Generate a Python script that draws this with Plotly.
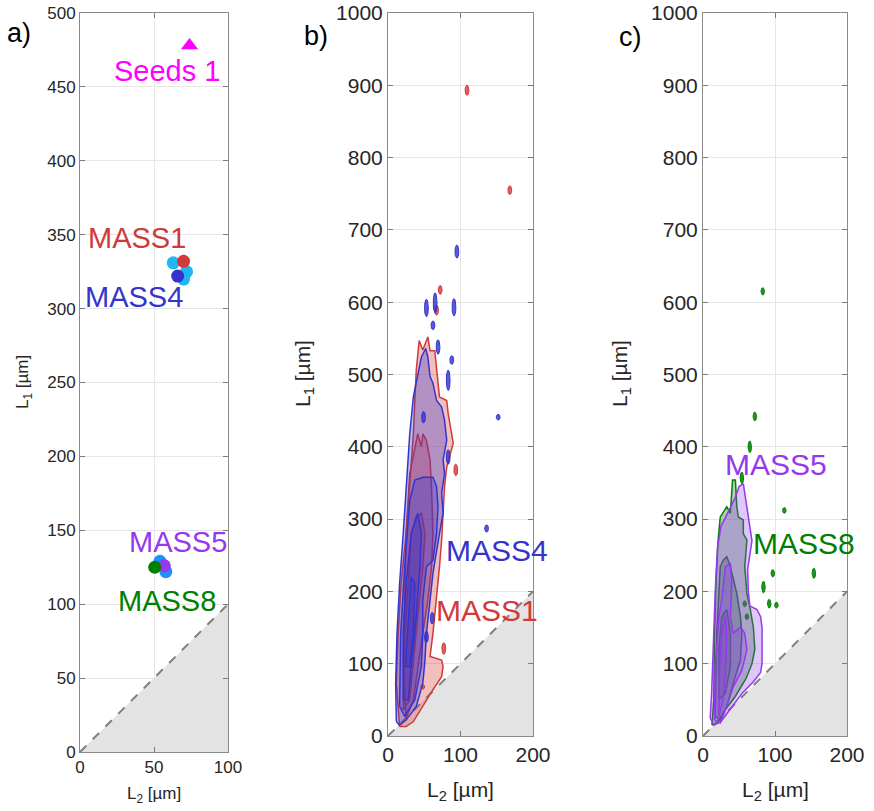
import numpy as np
import plotly.graph_objects as go

# ---------------- data ----------------
# Panel a: characteristic sizes (L2, L1) in µm
seeds_L2 = [74]
seeds_L1 = [478]
mass1_L2, mass1_L1 = [70], [332]
mass4_L2, mass4_L1 = [66], [322]
mass5_L2, mass5_L1 = [57], [126]
mass8_L2, mass8_L1 = [50.5], [125]
rep_high_L2 = [63, 72, 70]
rep_high_L1 = [331, 325, 320]
rep_low_L2 = [54, 58]
rep_low_L1 = [129, 122]

# Panel b: density contour levels (L2, L1) for MASS1 (red) and MASS4 (blue)
mass1_lvl1_L2 = [16, 11.5, 14, 18, 25, 30, 35, 37, 39, 43, 48, 55, 58, 64.5, 67, 71, 81, 83, 90, 85, 81, 78, 76, 74, 71, 67, 62, 58, 74, 76, 74, 62, 48, 35, 25]
mass1_lvl1_L1 = [13, 73, 142, 211, 280, 349, 418, 464, 506, 547, 534, 552, 533, 533, 510, 469, 464, 446, 405, 386, 372, 345, 303, 271, 234, 188, 142, 110, 105, 96, 82, 64, 41, 20, 13]
mass1_lvl2_L2 = [21, 23, 25, 30, 37, 41, 46, 48, 53, 58, 60, 62, 60, 55, 48, 41, 35, 25]
mass1_lvl2_L1 = [96, 188, 280, 363, 395, 418, 400, 418, 409, 382, 345, 280, 234, 188, 142, 96, 50, 24]
mass1_lvl3_L2 = [21, 23, 28, 32, 39, 46, 51, 48, 41, 35, 30]
mass1_lvl3_L1 = [36, 142, 211, 280, 303, 308, 280, 234, 165, 96, 50]

mass4_lvl1_L2 = [11.5, 10.6, 12.4, 16, 21, 25, 30, 35, 38, 41, 46, 52, 55, 58, 62, 67, 74, 78, 81, 76, 78, 74, 76, 71, 67, 62, 58, 53, 51, 48, 39, 25, 16]
mass4_lvl1_L1 = [20, 73, 142, 211, 280, 349, 418, 469, 483, 501, 524, 536, 524, 497, 488, 464, 455, 437, 409, 382, 363, 336, 308, 280, 253, 225, 188, 142, 105, 73, 41, 22, 15]
mass4_lvl2_L2 = [16, 17.5, 23, 30, 37, 48, 62, 67, 69, 67, 62, 53, 48, 48, 46, 37, 23]
mass4_lvl2_L1 = [41, 142, 234, 326, 354, 358, 358, 345, 317, 280, 243, 234, 188, 142, 96, 50, 27]
mass4_lvl3_L2 = [21, 21, 25, 32, 41, 46, 44, 39, 32, 28]
mass4_lvl3_L1 = [50, 142, 211, 280, 308, 280, 234, 165, 96, 50]
mass4_lvl4_L2 = [24, 28, 32, 37, 35, 30]
mass4_lvl4_L1 = [96, 165, 220, 211, 142, 96]

# small isolated contour islands: (L2, L1, half-extent in L1)
mass1_islands = [(109, 893, 7), (168, 755, 6), (72, 617, 6), (67, 589, 7),
                 (93.5, 368, 8), (77, 121, 8), (48, 68, 3)]
mass4_islands = [(95, 670, 9), (53, 592, 12), (65, 599, 14), (91, 593, 12),
                 (62, 568, 6), (69, 538, 10), (88, 520, 6), (83, 492, 14),
                 (152, 441, 4), (136, 287, 5), (61, 163, 8), (53, 137, 8),
                 (83, 386, 10), (49, 441, 8)]

# Panel c: density contour levels for MASS8 (green) and MASS5 (purple)
mass8_lvl1_L2 = [12.4, 15, 16, 18, 21, 24, 33, 38, 41, 45, 47, 49, 56, 56, 61, 58, 61, 65, 70, 72, 68, 60, 45, 30, 20]
mass8_lvl1_L1 = [15, 50, 142, 211, 271, 303, 317, 308, 354, 354, 317, 303, 299, 280, 271, 234, 197, 179, 150, 120, 100, 80, 55, 35, 18]
mass8_lvl2_L2 = [17, 19, 24, 28, 33, 38, 47, 52, 54, 52, 42, 33, 24]
mass8_lvl2_L1 = [27, 142, 234, 243, 248, 234, 197, 165, 142, 105, 73, 41, 22]
mass8_lvl3_L2 = [22, 22, 26, 33, 38, 38, 31]
mass8_lvl3_L1 = [50, 119, 165, 175, 142, 96, 59]

mass5_lvl1_L2 = [56, 60, 65, 68, 65, 62, 63, 65, 75, 80, 82, 82, 82, 80, 70, 55, 40, 25, 15, 10, 12, 14, 17, 20, 25, 35, 45, 50]
mass5_lvl1_L1 = [349, 320, 290, 270, 250, 230, 200, 180, 175, 165, 150, 120, 100, 88, 75, 60, 40, 20, 15, 25, 60, 120, 200, 260, 290, 310, 330, 345]
mass5_lvl2_L2 = [16, 17, 22, 26, 31, 38, 40, 38, 42, 52, 58, 61, 54, 42, 33, 24]
mass5_lvl2_L1 = [22, 96, 165, 188, 234, 239, 211, 165, 142, 151, 142, 119, 91, 68, 41, 18]
mass5_lvl3_L2 = [22, 23, 26, 31, 33, 31, 28]
mass5_lvl3_L1 = [27, 96, 142, 165, 133, 87, 50]

mass8_islands = [(83, 615, 5), (72, 442, 6), (65, 400, 8), (54, 357, 8),
                 (113, 312, 4), (97, 225, 5), (154, 225, 7), (84, 206, 8),
                 (92, 183, 6), (102, 181, 4), (61, 165, 4), (58, 183, 4)]

# axis ranges / ticks
a_xrange, a_yrange = [0, 100], [0, 500]
bc_xrange, bc_yrange = [0, 200], [0, 1000]
a_xticks = [0, 50, 100]
a_yticks = list(range(0, 501, 50))
bc_xticks = [0, 100, 200]
bc_yticks = list(range(0, 1001, 100))

# ---------------- styles ----------------
RED = "#D03A3A"
BLUE = "#3434CC"
PURPLE = "#9638EE"
GREEN = "#008000"
MAGENTA = "#FF00FF"
FONT = "Arial, Liberation Sans, sans-serif"
W, H = 874, 811

fig = go.Figure()


def poly(xs, ys, line, fill, xa, ya, width=1.5):
    fig.add_trace(go.Scatter(
        x=list(xs) + [xs[0]], y=list(ys) + [ys[0]], mode="lines",
        fill="toself", fillcolor=fill, line=dict(color=line, width=width),
        xaxis=xa, yaxis=ya, showlegend=False, hoverinfo="skip"))


def island(cx, cy, hy, line, fill, xa, ya, rx=2.6):
    t = np.linspace(0, 2 * np.pi, 24)
    poly(cx + rx * np.cos(t), cy + hy * np.sin(t), line, fill, xa, ya, width=1)


def shade(xr, xa, ya):
    m = xr[1]
    fig.add_trace(go.Scatter(x=[0, m, m, 0], y=[0, 0, m, 0], mode="lines",
                             fill="toself", fillcolor="#E3E3E3",
                             line=dict(width=0), xaxis=xa, yaxis=ya,
                             showlegend=False, hoverinfo="skip"))
    fig.add_trace(go.Scatter(x=[0, m], y=[0, m], mode="lines",
                             line=dict(color="#7F7F7F", width=2, dash="dash"),
                             xaxis=xa, yaxis=ya, showlegend=False, hoverinfo="skip"))


# ---- panel a ----
shade(a_xrange, "x", "y")


def dots(xs, ys, color, xa="x", ya="y", symbol="circle", size=13):
    fig.add_trace(go.Scatter(x=xs, y=ys, mode="markers",
                             marker=dict(color=color, size=size, symbol=symbol,
                                         line=dict(width=0)),
                             xaxis=xa, yaxis=ya, showlegend=False))


dots(seeds_L2, seeds_L1, MAGENTA, symbol="triangle-up", size=15)
dots(rep_high_L2, rep_high_L1, "#1FB6F2")
dots(mass1_L2, mass1_L1, RED)
dots(mass4_L2, mass4_L1, BLUE)
dots(rep_low_L2, rep_low_L1, "#1E90FF")
dots(mass5_L2, mass5_L1, PURPLE)
dots(mass8_L2, mass8_L1, GREEN)

# ---- panel b ----
shade(bc_xrange, "x2", "y2")
RF = "rgba(215,55,55,0.32)"
BF = "rgba(50,50,205,0.32)"
poly(mass1_lvl1_L2, mass1_lvl1_L1, RED, RF, "x2", "y2")
poly(mass1_lvl2_L2, mass1_lvl2_L1, RED, RF, "x2", "y2")
poly(mass1_lvl3_L2, mass1_lvl3_L1, RED, RF, "x2", "y2")
for cx, cy, hy in mass1_islands:
    island(cx, cy, hy, RED, "rgba(215,55,55,0.8)", "x2", "y2")
poly(mass4_lvl1_L2, mass4_lvl1_L1, BLUE, BF, "x2", "y2")
poly(mass4_lvl2_L2, mass4_lvl2_L1, BLUE, BF, "x2", "y2")
poly(mass4_lvl3_L2, mass4_lvl3_L1, BLUE, BF, "x2", "y2")
poly(mass4_lvl4_L2, mass4_lvl4_L1, BLUE, BF, "x2", "y2")
for cx, cy, hy in mass4_islands:
    island(cx, cy, hy, BLUE, "rgba(50,50,205,0.8)", "x2", "y2")

# ---- panel c ----
shade(bc_xrange, "x3", "y3")
GF = "rgba(20,100,40,0.32)"
PF = "rgba(150,70,235,0.30)"
poly(mass8_lvl1_L2, mass8_lvl1_L1, GREEN, GF, "x3", "y3")
poly(mass8_lvl2_L2, mass8_lvl2_L1, "#2E5E4E", GF, "x3", "y3")
poly(mass8_lvl3_L2, mass8_lvl3_L1, "#2E5E4E", GF, "x3", "y3")
for cx, cy, hy in mass8_islands:
    island(cx, cy, hy, GREEN, "rgba(0,128,0,0.85)", "x3", "y3", rx=2.4)
poly(mass5_lvl1_L2, mass5_lvl1_L1, PURPLE, PF, "x3", "y3")
poly(mass5_lvl2_L2, mass5_lvl2_L1, PURPLE, PF, "x3", "y3")
poly(mass5_lvl3_L2, mass5_lvl3_L1, PURPLE, PF, "x3", "y3")


# ---------------- axes ----------------
def px_x(p):
    return p / W


def px_y(p):
    return 1 - p / H


def axis_common(rng, ticks, fs):
    return dict(range=rng, tickvals=ticks, ticks="inside", ticklen=5,
                tickcolor="#7A7A7A", showline=True, linecolor="#8A8A8A",
                linewidth=1, mirror="ticks", showgrid=True, gridcolor="#E6E6E6",
                gridwidth=1, zeroline=False, automargin=False,
                tickfont=dict(size=fs, color="#262626", family=FONT),
                fixedrange=True)


fig.update_layout(
    xaxis=dict(domain=[px_x(80), px_x(228)], anchor="y", **axis_common(a_xrange, a_xticks, 17)),
    yaxis=dict(domain=[px_y(752), px_y(13)], anchor="x", **axis_common(a_yrange, a_yticks, 17)),
    xaxis2=dict(domain=[px_x(388), px_x(533)], anchor="y2", **axis_common(bc_xrange, bc_xticks, 21)),
    yaxis2=dict(domain=[px_y(736), px_y(13)], anchor="x2", **axis_common(bc_yrange, bc_yticks, 21)),
    xaxis3=dict(domain=[px_x(703), px_x(847)], anchor="y3", **axis_common(bc_xrange, bc_xticks, 21)),
    yaxis3=dict(domain=[px_y(736), px_y(13)], anchor="x3", **axis_common(bc_yrange, bc_yticks, 21)),
)

ann = []


def label(text, x, y, color, xr, yr, size=28):
    ann.append(dict(text=text, x=x, y=y, xref=xr, yref=yr, showarrow=False,
                    font=dict(size=size, color=color, family=FONT),
                    xanchor="center", yanchor="middle"))


label("Seeds 1", 59, 461, MAGENTA, "x", "y", 29)
label("MASS1", 38.5, 348, RED, "x", "y", 29)
label("MASS4", 36.5, 308, BLUE, "x", "y", 29)
label("MASS5", 66, 142, PURPLE, "x", "y", 29)
label("MASS8", 59, 102, GREEN, "x", "y", 29)
label("MASS4", 150, 257, BLUE, "x2", "y2", 30)
label("MASS1", 137, 174, RED, "x2", "y2", 30)
label("MASS5", 102, 375, PURPLE, "x3", "y3", 30)
label("MASS8", 140, 266, GREEN, "x3", "y3", 30)


def ptext(text, px, py, size, angle=0, color="#262626"):
    ann.append(dict(text=text, x=px / W, y=1 - py / H, xref="paper", yref="paper",
                    showarrow=False, textangle=angle,
                    font=dict(size=size, color=color, family=FONT),
                    xanchor="center", yanchor="middle"))


ptext("a)", 19, 33, 27, color="#000000")
ptext("b)", 316, 36, 27, color="#000000")
ptext("c)", 630, 37, 27, color="#000000")
ptext("L<sub>1</sub> [µm]", 24, 382, 17, -90)
ptext("L<sub>2</sub> [µm]", 154, 795, 17)
ptext("L<sub>1</sub> [µm]", 304, 374, 21, -90)
ptext("L<sub>2</sub> [µm]", 460, 791, 21)
ptext("L<sub>1</sub> [µm]", 621, 374, 21, -90)
ptext("L<sub>2</sub> [µm]", 775, 791, 21)

fig.update_layout(annotations=ann, width=W, height=H,
                  margin=dict(l=0, r=0, t=0, b=0, autoexpand=False),
                  paper_bgcolor="white", plot_bgcolor="white",
                  showlegend=False, font=dict(family=FONT))

fig.write_html("out.html")
